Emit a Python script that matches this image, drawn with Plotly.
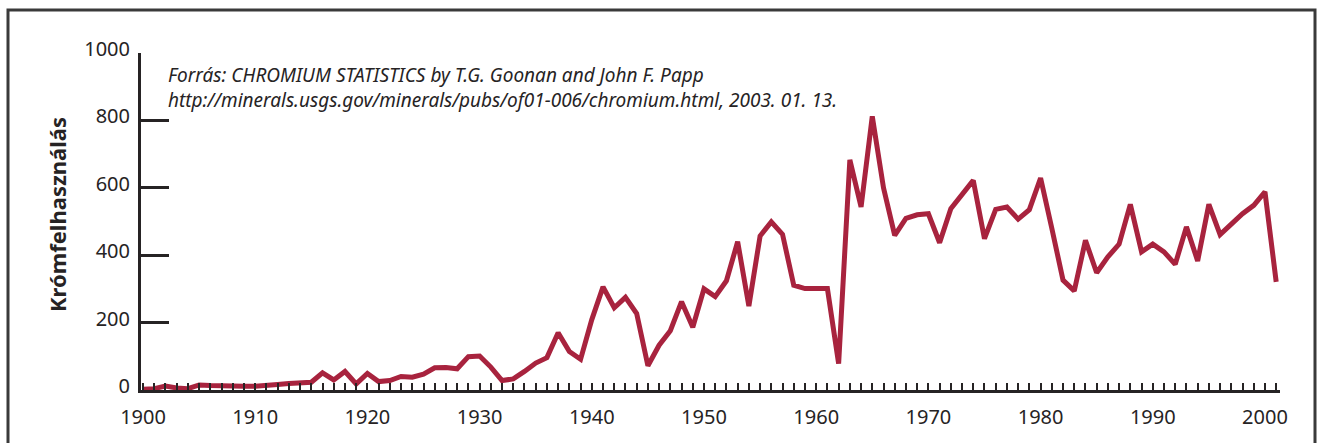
import plotly.graph_objects as go

# Annual chromium consumption (thousand tonnes), 1900-2001
years = list(range(1900, 2002))
consumption = [
    2, 4, 12, 6, 4, 15, 13, 12, 9, 11,            # 1900-1909
    11, 12, 16, 19, 22, 23, 51, 30, 55, 18,       # 1910-1919
    49, 25, 28, 40, 38, 47, 66, 67, 63, 99,       # 1920-1929
    101, 68, 28, 33, 55, 80, 96, 170, 114, 91,    # 1930-1939
    209, 306, 244, 275, 227, 72, 133, 176, 262, 186,  # 1940-1949
    300, 277, 324, 440, 249, 457, 499, 462, 311, 301,  # 1950-1959
    301, 301, 78, 683, 543, 812, 600, 459, 509, 520,  # 1960-1969
    523, 437, 538, 580, 622, 449, 536, 543, 507, 535,  # 1970-1979
    629, 480, 326, 294, 444, 348, 395, 433, 551, 410,  # 1980-1989
    433, 410, 373, 484, 383, 551, 461, 492, 523, 548,  # 1990-1999
    588, 321,                                      # 2000-2001
]

y_ticks = [0, 200, 400, 600, 800, 1000]
x_ticks = [1900, 1910, 1920, 1930, 1940, 1950, 1960, 1970, 1980, 1990, 2000]

y_title = "Krómfelhasználás"
source_lines = [
    "Forrás: CHROMIUM STATISTICS by T.G. Goonan and John F. Papp",
    "http://minerals.usgs.gov/minerals/pubs/of01-006/chromium.html, 2003. 01. 13.",
]

W, H = 1318, 443
L, R, T, B = 141, 38, 53, 53
INK = "#262324"
LINE = "#A8233E"
FONT = "Noto Sans"


def px_to_paper(px, py):
    """Convert page pixels to paper coordinates of the plot area."""
    pw = W - L - R
    ph = H - T - B
    return (px - L) / pw, (H - B - py) / ph


fig = go.Figure()
fig.add_trace(go.Scatter(
    x=years, y=consumption, mode="lines",
    line=dict(color=LINE, width=5),
    hoverinfo="x+y", showlegend=False,
))

fig.update_layout(
    width=W, height=H,
    margin=dict(l=L, r=R, t=T, b=B, pad=0),
    paper_bgcolor="white", plot_bgcolor="white",
    font=dict(family=FONT, color=INK),
    showlegend=False,
)

fig.update_xaxes(
    range=[1899.82, 2001.34],
    tickvals=x_ticks, ticktext=[str(v) for v in x_ticks],
    ticks="inside", ticklen=7, tickwidth=2, tickcolor=INK,
    minor=dict(dtick=1, tick0=1900, ticks="inside", ticklen=7, tickwidth=2, tickcolor=INK),
    showline=True, linecolor=INK, linewidth=3,
    showgrid=False, zeroline=False,
    tickfont=dict(size=20, color=INK, family=FONT),
    ticklabelstandoff=7,
)

fig.update_yaxes(
    range=[0, 1000],
    tickvals=y_ticks, ticktext=[str(v) for v in y_ticks],
    ticks="inside", ticklen=28, tickwidth=2.5, tickcolor=INK,
    showline=True, linecolor=INK, linewidth=3,
    showgrid=False, zeroline=False,
    tickfont=dict(size=20, color=INK, family=FONT),
    ticklabelstandoff=4, ticklabelshift=-4,
)

# y-axis title
tx, ty = px_to_paper(57, 215)
fig.add_annotation(
    x=tx, y=ty, xref="paper", yref="paper",
    text=f"<b>{y_title}</b>", textangle=-90, showarrow=False,
    xanchor="center", yanchor="middle",
    font=dict(size=22, color=INK, family=FONT),
)

# source note (two lines in one block)
sx, sy = px_to_paper(166, 87)
fig.add_annotation(
    x=sx, y=sy, xref="paper", yref="paper",
    text="<br>".join(source_lines), showarrow=False,
    xanchor="left", yanchor="middle", align="left",
    font=dict(size=19, color=INK, family=FONT, style="italic"),
)

# outer frame: left, top and right edges
x0, y0 = px_to_paper(8, H + 5)
x1, y1 = px_to_paper(8, 10)
x2, _ = px_to_paper(1315, 10)
path = f"M {x0} {y0} L {x1} {y1} L {x2} {y1} L {x2} {y0}"
fig.add_shape(type="path", path=path, xref="paper", yref="paper",
              line=dict(color="#3a3a3a", width=3), layer="above")

fig.write_html("out.html")
